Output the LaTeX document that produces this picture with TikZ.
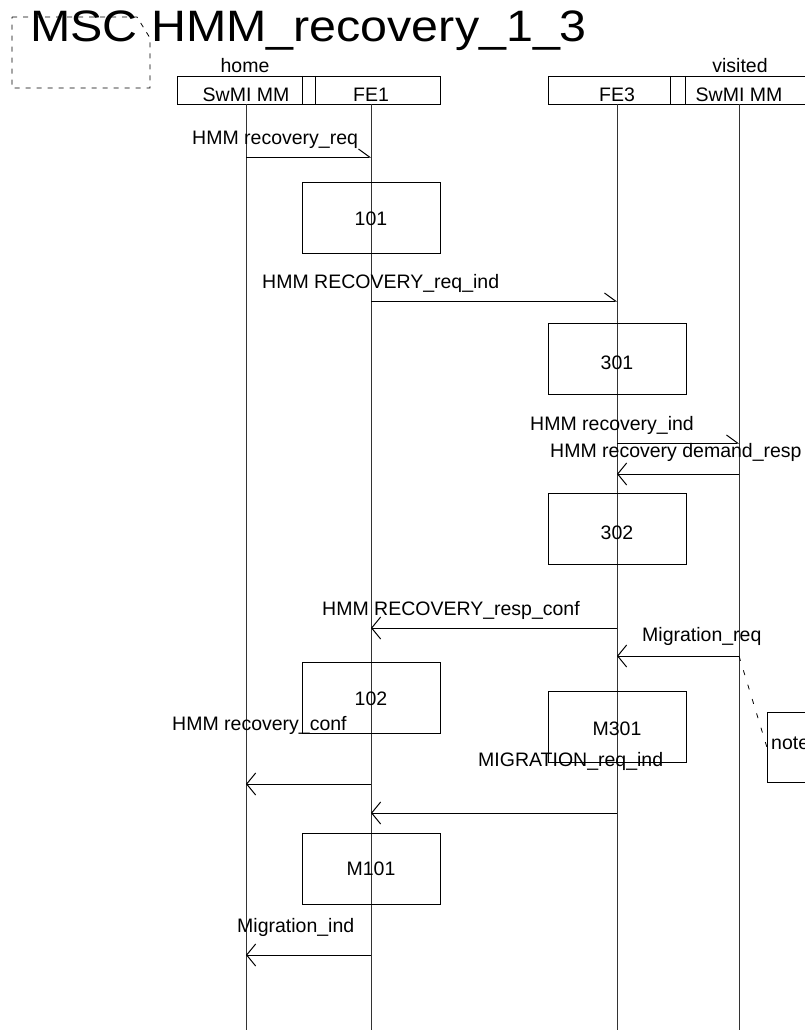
\documentclass[tikz,border=0pt]{standalone}
\usepackage{fontspec}
\setmainfont{Liberation Sans}
\usetikzlibrary{arrows.meta}
\begin{document}
\begin{tikzpicture}[x=1pt,y=-1pt,
  lbl/.style={anchor=base west,inner sep=0pt,font=\fontsize{19.5}{22}\selectfont},
  ctr/.style={anchor=base,inner sep=0pt,font=\fontsize{19.5}{22}\selectfont},
  actbox/.style={draw,line width=1pt,minimum width=138pt,minimum height=71pt,inner sep=0pt,anchor=north west},
  life/.style={line width=1pt,draw=black!80},
  msgR/.style={line width=1pt,-{Straight Barb[left,length=11pt,width=16pt,line width=1pt]}},
  msgL/.style={line width=1pt,-{Straight Barb[length=9pt,width=22pt,line width=1pt]}},
  hdr/.style={draw,line width=1pt,anchor=north west,inner sep=0pt,minimum height=28pt}]
\useasboundingbox (0,0) rectangle (805,1030);
\clip (0,0) rectangle (805,1030);
% frame heading
\draw[dashed,line width=0.8pt,dash pattern=on 5pt off 6pt] (12,17) -- (137,17) -- (150,38) -- (150,88) -- (12,88) -- cycle;
\node[anchor=base west,inner sep=0pt,font=\fontsize{44}{48}\selectfont] (title) at (30,42) {\scalebox{1.1}[1]{MSC HMM\_recovery\_1\_3}};
% instance headers
\node[hdr,minimum width=263pt] (hhome) at (177,76) {};
\draw[line width=1pt] (302,76) -- (302,104) (315,76) -- (315,104);
\node[hdr,minimum width=270pt] (hvis) at (548,76) {};
\draw[line width=1pt] (670,76) -- (670,104) (685,76) -- (685,104);
\node[ctr] (home) at (245,73) {home};
\node[ctr] (visited) at (740,73) {visited};
\node[ctr] (n1) at (246,102) {SwMI MM};
\node[ctr] (n2) at (371,102) {FE1};
\node[ctr] (n3) at (617,102) {FE3};
\node[ctr] (n4) at (739,102) {SwMI MM};
% lifelines
\coordinate (a0) at (246,104); \coordinate (a1) at (246,1030);
\coordinate (b0) at (371,104); \coordinate (b1) at (371,1030);
\coordinate (c0) at (617,104); \coordinate (c1) at (617,1030);
\coordinate (d0) at (739,104); \coordinate (d1) at (739,1030);
\draw[life] (a0) -- (a1); \draw[life] (b0) -- (b1);
\draw[life] (c0) -- (c1); \draw[life] (d0) -- (d1);
% action boxes
\node[actbox] (x101) at (302,182) {};
\node[ctr] at (371,225) {101};
\node[actbox] (x301) at (548,323) {};
\node[ctr] at (617,369) {301};
\node[actbox] (x302) at (548,493) {};
\node[ctr] at (617,539) {302};
\node[actbox] (x102) at (302,662) {};
\node[ctr] at (371,705) {102};
\node[actbox] (xm301) at (548,691) {};
\node[ctr] at (617,735) {M301};
\node[actbox] (xm101) at (302,833) {};
\node[ctr] at (371,875) {M101};
% note
\node[draw,line width=1pt,anchor=north west,minimum width=60pt,minimum height=70pt,inner sep=0pt] (note) at (767,712) {};
\node[lbl] (notetxt) at (771,749) {note};
% messages
\coordinate (m1s) at (246,157); \coordinate (m1e) at (371,157);
\draw[msgR] (m1s) -- (m1e);
\node[lbl] at (192,145) {HMM recovery\_req};
\coordinate (m2s) at (371,301); \coordinate (m2e) at (617,301);
\draw[msgR] (m2s) -- (m2e);
\node[lbl] at (262,288) {HMM RECOVERY\_req\_ind};
\coordinate (m3s) at (617,443); \coordinate (m3e) at (739,443);
\draw[msgR] (m3s) -- (m3e);
\node[lbl] at (530,430) {HMM recovery\_ind};
\coordinate (m4s) at (739,474); \coordinate (m4e) at (617,474);
\draw[msgL] (m4s) -- (m4e);
\node[lbl] at (550,457) {HMM recovery demand\_resp};
\coordinate (m5s) at (617,628); \coordinate (m5e) at (371,628);
\draw[msgL] (m5s) -- (m5e);
\node[lbl] at (322,615) {HMM RECOVERY\_resp\_conf};
\coordinate (m6s) at (739,656); \coordinate (m6e) at (617,656);
\draw[msgL] (m6s) -- (m6e);
\node[lbl] at (642,641) {Migration\_req};
\draw[line width=0.8pt,dash pattern=on 5pt off 10pt] (m6s) -- (note.west);
\coordinate (m7s) at (371,784); \coordinate (m7e) at (246,784);
\draw[msgL] (m7s) -- (m7e);
\node[lbl] at (172,730) {HMM recovery\_conf};
\coordinate (m8s) at (617,813); \coordinate (m8e) at (371,813);
\draw[msgL] (m8s) -- (m8e);
\node[lbl] at (478,766) {MIGRATION\_req\_ind};
\coordinate (m9s) at (371,955); \coordinate (m9e) at (246,955);
\draw[msgL] (m9s) -- (m9e);
\node[lbl] at (237,932) {Migration\_ind};
\end{tikzpicture}
\end{document}
